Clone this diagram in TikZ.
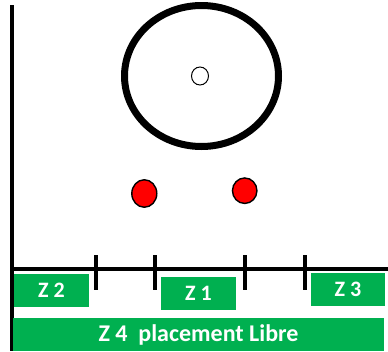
\documentclass[tikz,border=0pt]{standalone}
\usepackage{fontspec}
\setmainfont{Carlito}
\usetikzlibrary{shapes.geometric}
\definecolor{zonegreen}{HTML}{00B050}

\begin{document}
\begin{tikzpicture}[x=1pt, y=-1pt,
    zone/.style={rectangle, fill=zonegreen, text=white, inner sep=0pt,
        minimum width=75pt, minimum height=33pt, font=\bfseries\fontsize{22}{24}\selectfont},
    spot/.style={ellipse, draw, fill=red, line width=1.4pt, inner sep=0pt}]

    \useasboundingbox (0,0) rectangle (388,351);

    % Axes
    \coordinate (top) at (12,5);
    \coordinate (bot) at (12,351);
    \coordinate (right) at (388,269);
    \draw[line width=4pt] (top) -- (bot);
    \draw[line width=4.5pt] (12,269) -- (right);

    % Ticks
    \foreach \tx/\name in {96/ta, 155/tb, 245/tc, 305/td} {
        \coordinate (\name1) at (\tx,255);
        \coordinate (\name2) at (\tx,290);
        \draw[line width=4pt] (\name1) -- (\name2);
    }

    % Ring and centre
    \node (ring) [ellipse, draw, line width=7pt, minimum width=154pt, minimum height=141pt] at (201.5,76) {};
    \node (hub) [ellipse, draw, line width=1pt, minimum width=17pt, minimum height=18pt, inner sep=0pt] at (200,76) {};

    % Red spots
    \node (spotl) [spot, minimum width=25pt, minimum height=27.5pt] at (144.3,193.5) {};
    \node (spotr) [spot, minimum width=24.5pt, minimum height=25.5pt] at (244.7,190.7) {};

    % Zones
    \node (z2) [zone] at (51.5,290.5) {Z 2};
    \node (z1) [zone] at (198.5,293.5) {Z 1};
    \node (z3) [zone, minimum width=74pt] at (348,289.5) {Z 3};
    \node (z4) [zone, minimum width=371pt, font=\bfseries\fontsize{24}{26}\selectfont] at (198.5,334.5) {Z 4\ \ placement Libre};

\end{tikzpicture}
\end{document}
